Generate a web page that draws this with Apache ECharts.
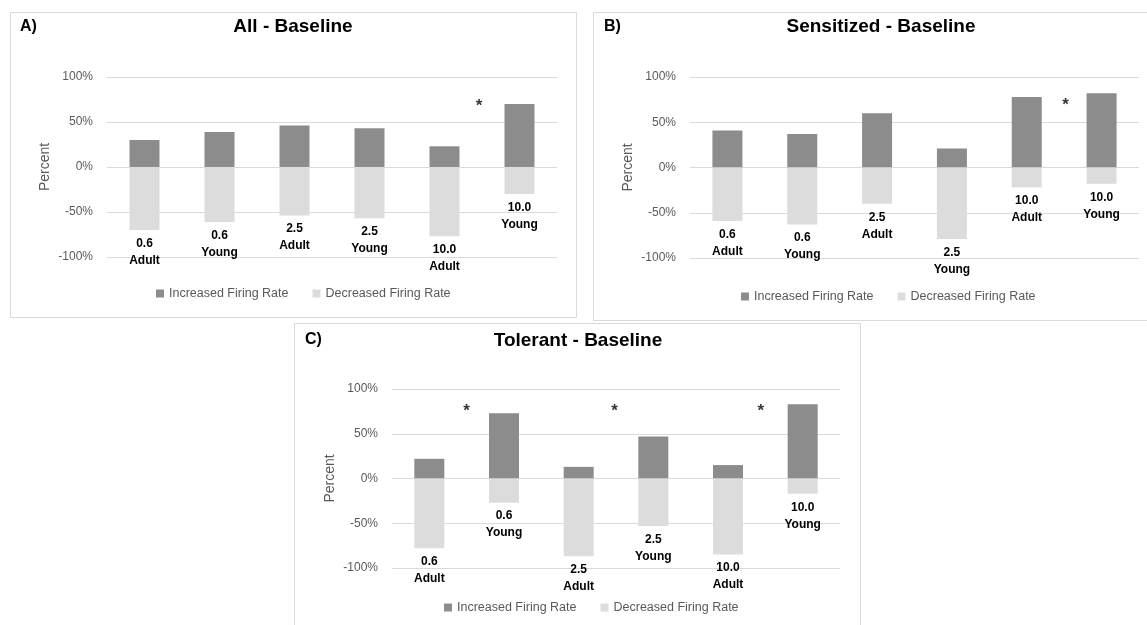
<!DOCTYPE html>
<html>
<head>
<meta charset="utf-8">
<script src="https://cdn.jsdelivr.net/npm/echarts@6/dist/echarts.min.js"></script>
<style>
html,body{margin:0;padding:0;background:#fff;}
#chart{width:1147px;height:625px;}
</style>
</head>
<body>
<div id="chart"></div>
<script>
// ---- data ----
const categories = ['0.6\nAdult', '0.6\nYoung', '2.5\nAdult', '2.5\nYoung', '10.0\nAdult', '10.0\nYoung'];
const incA = [30, 39, 46, 43, 23, 70];
const decA = [-70, -61, -54, -57, -77, -30];
const incB = [41, 37, 60, 21, 78, 82];
const decB = [-59, -63, -40, -79, -22, -18];
const incC = [22, 73, 13, 47, 15, 83];
const decC = [-78, -27, -87, -53, -85, -17];
// star markers: [position along category axis (0..6), percent]
const starsA = [[4.96, 72]];
const starsB = [[5.02, 73]];
const starsC = [[1.0, 79], [2.98, 79], [4.94, 79]];
const titles = ['All - Baseline', 'Sensitized - Baseline', 'Tolerant - Baseline'];
const letters = ['A)', 'B)', 'C)'];
const seriesNames = ['Increased Firing Rate', 'Decreased Firing Rate'];
const yMin = -100, yMax = 100, yInterval = 50;

// ---- layout ----
const FONT = 'Liberation Sans, Arial, sans-serif';
const DARK = '#8c8c8c', LIGHT = '#dcdcdc', GRID = '#dadada', AXTXT = '#595959';
const panels = [
  {grid: {left: 107, top: 77, width: 450, height: 180}, inc: incA, dec: decA, stars: starsA,
   box: [10.5, 12.5, 566, 305], title: [293, 27], letter: [20, 27], legend: [151, 282]},
  {grid: {left: 690, top: 77, width: 449, height: 181}, inc: incB, dec: decB, stars: starsB,
   box: [593.5, 12.5, 600, 308], title: [881, 27], letter: [604, 27], legend: [736, 285]},
  {grid: {left: 392, top: 389, width: 448, height: 179}, inc: incC, dec: decC, stars: starsC,
   box: [294.5, 323.5, 566, 320], title: [578, 341], letter: [305, 340], legend: [439, 596]}
];

const grid = [], xAxis = [], yAxis = [], series = [], legend = [], graphic = [];
panels.forEach((p, i) => {
  grid.push(Object.assign({containLabel: false}, p.grid));
  xAxis.push({
    type: 'category', gridIndex: i, data: categories,
    axisLine: {show: false}, axisTick: {show: false}, axisLabel: {show: false}, splitLine: {show: false}
  });
  yAxis.push({
    type: 'value', gridIndex: i, min: yMin, max: yMax, interval: yInterval,
    name: 'Percent', nameLocation: 'middle', nameGap: 55,
    nameTextStyle: {color: AXTXT, fontSize: 14, fontFamily: FONT},
    axisLine: {show: false}, axisTick: {show: false},
    axisLabel: {formatter: '{value}%', color: AXTXT, fontSize: 12, fontFamily: FONT, margin: 14},
    splitLine: {lineStyle: {color: GRID, width: 1}}
  });
  series.push({
    name: seriesNames[0], type: 'bar', xAxisIndex: i, yAxisIndex: i,
    data: p.inc, barWidth: 30, barGap: '-100%',
    itemStyle: {color: DARK}
  });
  series.push({
    name: seriesNames[1], type: 'bar', xAxisIndex: i, yAxisIndex: i,
    data: p.dec, barWidth: 30, barGap: '-100%',
    itemStyle: {color: LIGHT},
    label: {show: true, position: 'bottom', distance: 5, formatter: '{b}',
            color: '#000', fontWeight: 'bold', fontSize: 12, lineHeight: 17, fontFamily: FONT}
  });
  legend.push({
    left: p.legend[0], top: p.legend[1], data: seriesNames, icon: 'rect',
    itemWidth: 8, itemHeight: 8, itemGap: 24, selectedMode: false,
    textStyle: {color: AXTXT, fontSize: 12.5, fontFamily: FONT}
  });
  graphic.push({type: 'rect', shape: {x: p.box[0], y: p.box[1], width: p.box[2], height: p.box[3]},
    style: {fill: 'none', stroke: GRID, lineWidth: 1}, z: -1, silent: true});
  graphic.push({type: 'text', x: p.title[0], y: p.title[1],
    style: {text: titles[i], align: 'center', verticalAlign: 'middle', fill: '#000',
            font: 'bold 19px ' + FONT}});
  graphic.push({type: 'text', x: p.letter[0], y: p.letter[1],
    style: {text: letters[i], align: 'left', verticalAlign: 'middle', fill: '#000',
            font: 'bold 16px ' + FONT}});
});
panels.forEach((p, i) => {
  xAxis.push({type: 'value', gridIndex: i, min: 0, max: 6, show: false});
  series.push({
    type: 'scatter', xAxisIndex: 3 + i, yAxisIndex: i, data: p.stars,
    symbolSize: 1, itemStyle: {color: 'rgba(0,0,0,0)'},
    label: {show: true, position: 'inside', formatter: '*', color: '#000',
            fontSize: 17, fontWeight: 'bold', fontFamily: FONT, offset: [0, 4]},
    silent: true
  });
});

const chart = echarts.init(document.getElementById('chart'));
chart.setOption({
  animation: false,
  backgroundColor: '#fff',
  grid, xAxis, yAxis, series, legend, graphic
});
</script>
</body>
</html>
